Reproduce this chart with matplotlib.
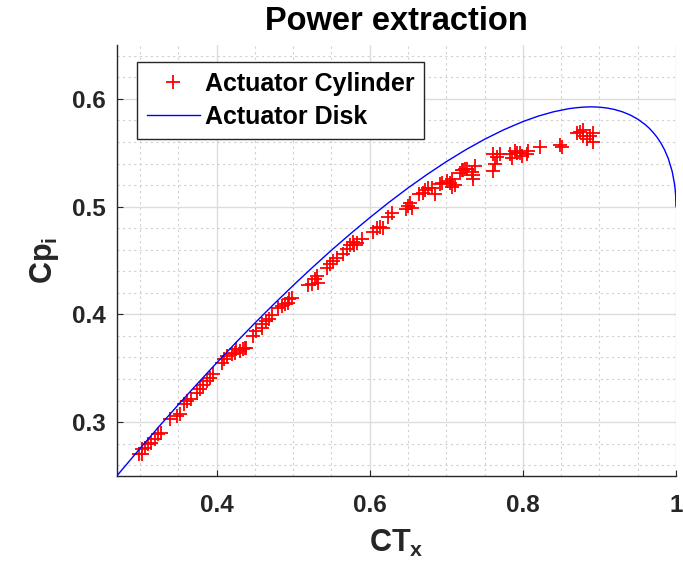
import matplotlib
matplotlib.use("Agg")
import matplotlib.pyplot as plt
from matplotlib.ticker import MultipleLocator

plt.rcParams['font.family'] = ['Liberation Sans', 'DejaVu Sans']
plt.rcParams['font.weight'] = 'bold'
plt.rcParams['mathtext.fontset'] = 'custom'
plt.rcParams['mathtext.rm'] = 'Liberation Sans:bold'
plt.rcParams['mathtext.bf'] = 'Liberation Sans:bold'
plt.rcParams['mathtext.it'] = 'Liberation Sans:bold'

# Actuator Cylinder results
cyl_ct = [0.299, 0.302, 0.306, 0.303, 0.310, 0.315, 0.319, 0.323, 0.328,
          0.339, 0.348, 0.352, 0.358, 0.362, 0.367, 0.374, 0.378, 0.382,
          0.387, 0.391, 0.395, 0.407, 0.410, 0.414, 0.420, 0.424, 0.430,
          0.437, 0.426, 0.434, 0.439, 0.447, 0.452, 0.459, 0.460, 0.465,
          0.469, 0.473, 0.480, 0.485, 0.489, 0.493, 0.495, 0.499, 0.519,
          0.524, 0.528, 0.531, 0.532, 0.544, 0.548, 0.552, 0.557, 0.565,
          0.570, 0.574, 0.578, 0.580, 0.583, 0.590, 0.604, 0.609, 0.613,
          0.617, 0.624, 0.629, 0.648, 0.650, 0.652, 0.655, 0.665, 0.669,
          0.672, 0.676, 0.682, 0.685, 0.692, 0.695, 0.701, 0.705, 0.708,
          0.718, 0.722, 0.727, 0.711, 0.707, 0.720, 0.724, 0.733, 0.735,
          0.737, 0.735, 0.761, 0.766, 0.770, 0.763, 0.761, 0.783, 0.786,
          0.790, 0.792, 0.796, 0.799, 0.805, 0.807, 0.822, 0.848, 0.851,
          0.871, 0.875, 0.878, 0.878, 0.884, 0.888, 0.892, 0.892]
cyl_cp = [0.270, 0.275, 0.276, 0.270, 0.280, 0.281, 0.284, 0.289, 0.290,
          0.303, 0.306, 0.308, 0.317, 0.320, 0.321, 0.327, 0.331, 0.334,
          0.338, 0.341, 0.345, 0.355, 0.359, 0.361, 0.363, 0.364, 0.366,
          0.369, 0.368, 0.368, 0.369, 0.380, 0.385, 0.387, 0.391, 0.394,
          0.396, 0.399, 0.406, 0.408, 0.410, 0.411, 0.414, 0.415, 0.427,
          0.428, 0.433, 0.436, 0.429, 0.443, 0.447, 0.450, 0.452, 0.456,
          0.461, 0.464, 0.467, 0.464, 0.466, 0.470, 0.476, 0.480, 0.481,
          0.480, 0.490, 0.494, 0.498, 0.501, 0.503, 0.499, 0.512, 0.513,
          0.515, 0.517, 0.517, 0.512, 0.521, 0.522, 0.524, 0.522, 0.526,
          0.531, 0.534, 0.535, 0.520, 0.518, 0.534, 0.535, 0.532, 0.529,
          0.538, 0.526, 0.549, 0.546, 0.549, 0.540, 0.533, 0.549, 0.545,
          0.552, 0.550, 0.550, 0.547, 0.549, 0.552, 0.555, 0.557, 0.555,
          0.568, 0.569, 0.571, 0.566, 0.563, 0.566, 0.568, 0.560]

# Actuator Disk curve
disk_ct = [0.27, 0.30, 0.325, 0.35, 0.375, 0.40, 0.425, 0.45, 0.475, 0.50,
           0.525, 0.55, 0.575, 0.60, 0.625, 0.65, 0.675, 0.70, 0.725, 0.75,
           0.775, 0.80, 0.82, 0.84, 0.86, 0.87, 0.88, 0.89, 0.90, 0.91, 0.92,
           0.93, 0.94, 0.95, 0.96, 0.965, 0.97, 0.975, 0.98, 0.985, 0.99,
           0.995, 0.998, 0.999, 0.9995, 1.0]
disk_cp = [0.2503, 0.2755, 0.2960, 0.3161, 0.3357, 0.3549, 0.3736, 0.3919,
           0.4096, 0.4268, 0.4434, 0.4595, 0.4749, 0.4897, 0.5039, 0.5173,
           0.5299, 0.5417, 0.5526, 0.5625, 0.5713, 0.5789, 0.5840, 0.5880,
           0.5909, 0.5918, 0.5924, 0.5926, 0.5923, 0.5915, 0.5901, 0.5880,
           0.5851, 0.5812, 0.5760, 0.5728, 0.5690, 0.5646, 0.5593, 0.5528,
           0.5445, 0.5327, 0.5213, 0.5153, 0.5109, 0.5000]

x_ticks = [0.4, 0.6, 0.8, 1.0]
x_tick_labels = ['0.4', '0.6', '0.8', '1']
y_ticks = [0.3, 0.4, 0.5, 0.6]
y_tick_labels = ['0.3', '0.4', '0.5', '0.6']

fig = plt.figure(figsize=(6.83, 5.75), dpi=100)
ax = fig.add_axes([117/683, 1 - 476/575, (676 - 117)/683, (476 - 45)/575])

ax.plot(cyl_ct, cyl_cp, linestyle='none', marker='+', color='red',
        markersize=9.5, markeredgewidth=1.3, label='Actuator Cylinder', zorder=3)
ax.plot(disk_ct, disk_cp, color='blue', linewidth=1.0,
        label='Actuator Disk', zorder=4)

ax.set_xlim(0.27, 1.0)
ax.set_ylim(0.25, 0.65)
ax.set_xticks(x_ticks)
ax.set_xticklabels(x_tick_labels)
ax.set_yticks(y_ticks)
ax.set_yticklabels(y_tick_labels)
ax.xaxis.set_minor_locator(MultipleLocator(0.05))
ax.yaxis.set_minor_locator(MultipleLocator(0.02))

ax.grid(which='major', color='#dcdcdc', linewidth=1.0, linestyle='-')
ax.grid(which='minor', color='#d0d0d0', linewidth=0.8, linestyle=(0, (2, 3)))
ax.set_axisbelow(True)

for s in ['top', 'right']:
    ax.spines[s].set_visible(False)
for s in ['left', 'bottom']:
    ax.spines[s].set_color('#262626')
    ax.spines[s].set_linewidth(1.0)

ax.tick_params(which='major', direction='in', length=4, width=0.8,
               color='#262626', labelsize=17.5, labelcolor='#262626')
ax.tick_params(axis='x', which='major', pad=13)
ax.tick_params(axis='y', which='major', pad=8)
ax.tick_params(which='minor', length=0)
for lab in ax.get_xticklabels() + ax.get_yticklabels():
    lab.set_fontweight('bold')

ax.set_title('Power extraction', fontsize=23.5, fontweight='bold', pad=11)
ax.set_xlabel(r'$\mathbf{CT}_{\mathbf{x}}$', fontsize=22, labelpad=8, color='#262626')
ax.set_ylabel(r'$\mathbf{Cp}_{\mathbf{i}}$', fontsize=22, labelpad=8, color='#262626')

leg = ax.legend(loc='upper left', bbox_to_anchor=(0.036, 0.96),
                prop={'weight': 'bold', 'size': 18}, frameon=True, fancybox=False,
                edgecolor='#262626', framealpha=1, handlelength=2.1,
                handletextpad=0.2, borderpad=0.4, labelspacing=0.35,
                borderaxespad=0)
leg.get_frame().set_linewidth(1.0)

fig.savefig('out.png', dpi=100)
